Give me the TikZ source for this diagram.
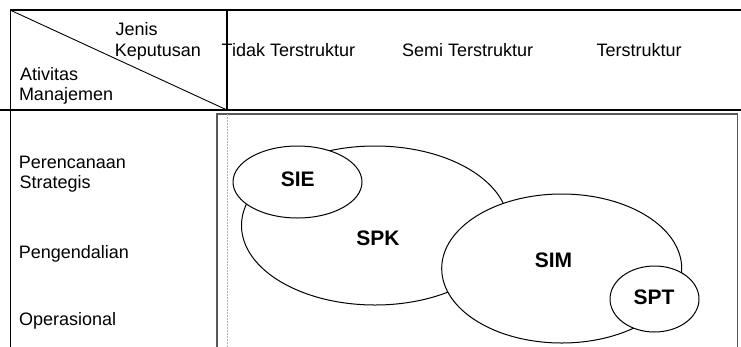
\documentclass[tikz,border=0pt]{standalone}
\usepackage{fontspec}
\setmainfont{Liberation Sans}
\usetikzlibrary{shapes.geometric}
\begin{document}
\begin{tikzpicture}[x=1pt,y=-1pt,
  txt/.style={anchor=base west, inner sep=0pt, font=\fontsize{18}{20}\selectfont},
  lbl/.style={inner sep=0pt, font=\fontsize{21}{24}\selectfont\bfseries},
  oval/.style={ellipse, draw=black, line width=1pt, fill=white, inner sep=0pt}]
\useasboundingbox (0,0) rectangle (741,346);
\clip (0,0) rectangle (741,346);
% grid
\coordinate (tl) at (10,10);
\coordinate (tr) at (745,10);
\coordinate (bl) at (10,350);
\coordinate (hl) at (-5,110);
\coordinate (hr) at (745,110);
\coordinate (vt) at (227,10);
\coordinate (vb) at (227,110);
\draw[line width=1.3pt] (tl) -- (tr);
\draw[line width=1pt] (tl) -- (bl);
\draw[line width=0.9pt] (tl) -- (vb);
\draw[line width=2pt] (vt) -- (vb);
\draw[line width=2.6pt] (hl) -- (hr);
% inner box
\draw[gray!70!black, line width=1.5pt] (217,350) -- (217,114) -- (737.7,114) -- (737.7,350);
\draw[gray!60, line width=0.8pt, dashed, dash pattern=on 2pt off 1pt] (227,114) -- (227,350);
% header texts
\node[txt] (jenis) at (115.5,35.5) {Jenis};
\node[txt] (kep) at (114.6,56) {Keputusan};
\node[txt] (tt) at (221.5,56.5) {Tidak Terstruktur};
\node[txt] (st) at (402,56.5) {Semi Terstruktur};
\node[txt] (ts) at (596.5,56.5) {Terstruktur};
\node[txt] (ativ) at (20,80.5) {Ativitas};
\node[txt] (manaj) at (18.8,100) {Manajemen};
\node[txt] (ren) at (18.7,168.3) {Perencanaan};
\node[txt] (strat) at (19.5,188.5) {Strategis};
\node[txt] (peng) at (18.7,258.3) {Pengendalian};
\node[txt] (oper) at (19,325) {Operasional};
% ellipses
\node[oval, minimum width=267pt, minimum height=159pt] (spk) at (375,225.5) {};
\node[oval, minimum width=129pt, minimum height=72pt] (sie) at (297.5,182) {};
\node[oval, minimum width=240pt, minimum height=149pt] (sim) at (561.7,268.5) {};
\node[oval, minimum width=89pt, minimum height=66pt] (spt) at (654.5,299) {};
\node[lbl] (sielbl) at (297.7,178.8) {SIE};
\node[lbl] (spklbl) at (378,238.5) {SPK};
\node[lbl] (simlbl) at (553.5,260.5) {SIM};
\node[lbl] (sptlbl) at (654,297) {SPT};
\end{tikzpicture}
\end{document}
